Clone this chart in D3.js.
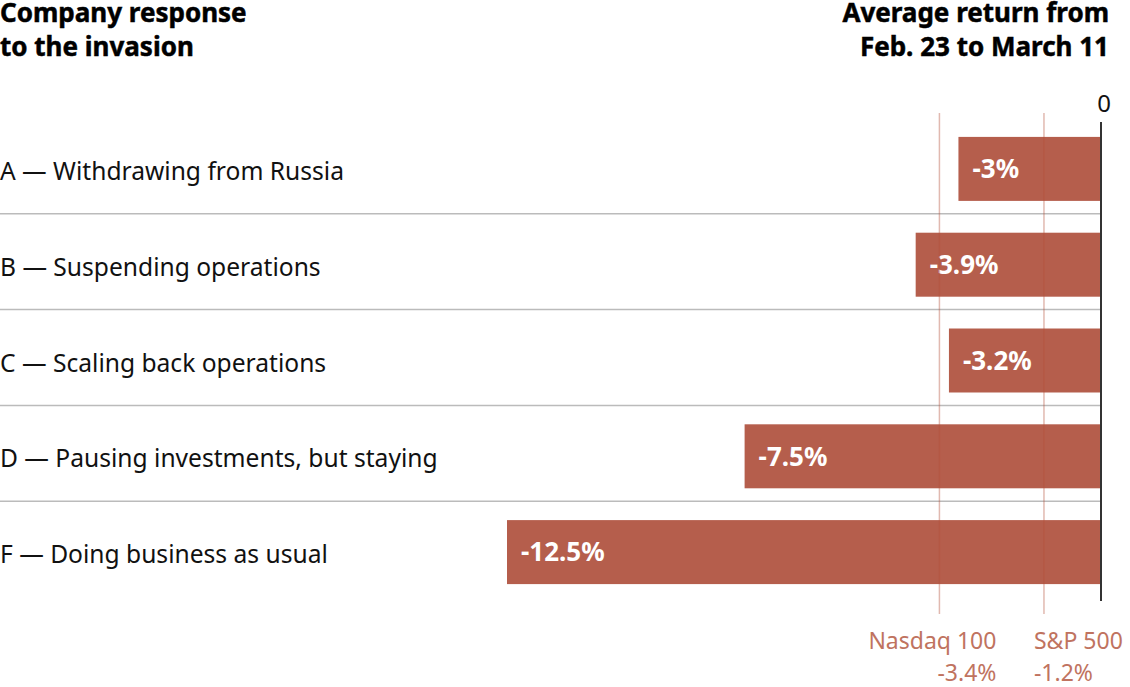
<!DOCTYPE html>
<html>
<head>
<meta charset="utf-8">
<script src="https://cdn.jsdelivr.net/npm/d3@7"></script>
<style>
  body { margin: 0; background: #fff; }
  text { font-family: "Noto Sans", sans-serif; }
</style>
</head>
<body>
<div id="chart"></div>
<script>
const categories = [
  "A \u2014 Withdrawing from Russia",
  "B \u2014 Suspending operations",
  "C \u2014 Scaling back operations",
  "D \u2014 Pausing investments, but staying",
  "F \u2014 Doing business as usual"
]
const returns = [-3, -3.9, -3.2, -7.5, -12.5]
const benchmarks = ["Nasdaq 100", "S&P 500"]
const benchmarkReturns = [-3.4, -1.2]
const titleLeft = ["Company response", "to the invasion"]
const titleRight = ["Average return from", "Feb. 23 to March 11"]

const width = 1130
const height = 687
const barColor = "#b55e4c"
const refColor = "#c0735f"

const svg = d3.select("#chart")
  .append("svg")
  .attr("width", width)
  .attr("height", height)

const x = d3.scaleLinear()
  .domain([-12.5, 0])
  .range([507, 1101])

const y = d3.scaleBand()
  .domain(categories)
  .range([121, 600])
  .paddingInner(0.332)
  .paddingOuter(0.166)

const bw = y.bandwidth()
const gap = y.step() - bw

// titles
const layer_title = svg.append("g")
  .style("font-weight", 700)
  .style("font-size", "26px")
  .style("fill", "#000")
  .style("stroke", "#000")
  .style("stroke-width", 0.5)

layer_title.append("text")
  .attr("x", 0).attr("y", 22)
  .selectAll("tspan")
  .data(titleLeft)
  .join("tspan")
  .attr("x", 0)
  .attr("dy", (d, i) => i ? 34 : 0)
  .text(d => d)

layer_title.append("text")
  .attr("x", 1109).attr("y", 22)
  .attr("text-anchor", "end")
  .selectAll("tspan")
  .data(titleRight)
  .join("tspan")
  .attr("x", 1109)
  .attr("dy", (d, i) => i ? 34 : 0)
  .text(d => d)

// row separators
svg.append("g")
  .selectAll("line")
  .data(categories.slice(0, -1))
  .join("line")
  .attr("x1", 0)
  .attr("x2", x(0))
  .attr("y1", d => y(d) + bw + gap / 2 - 3)
  .attr("y2", d => y(d) + bw + gap / 2 - 3)
  .attr("stroke", "#bbb")
  .attr("stroke-width", 1.5)

// row labels
svg.append("g")
  .selectAll("text")
  .data(categories)
  .join("text")
  .attr("x", 0)
  .attr("y", d => y(d) + bw / 2 + 11)
  .style("font-size", "24.6px")
  .style("fill", "#111")
  .text(d => d)

// bars
const bars = svg.append("g")
bars.selectAll("rect")
  .data(returns)
  .join("rect")
  .attr("x", d => x(d))
  .attr("width", d => x(0) - x(d))
  .attr("y", (d, i) => y(categories[i]))
  .attr("height", bw)
  .attr("fill", barColor)

bars.selectAll("text")
  .data(returns)
  .join("text")
  .attr("x", d => x(d) + 14)
  .attr("y", (d, i) => y(categories[i]) + bw / 2)
  .attr("dy", "0.36em")
  .style("fill", "#fff")
  .style("font-weight", 700)
  .style("font-size", "26px")
  .text(d => `${d}%`)

// zero axis
svg.append("line")
  .attr("x1", x(0)).attr("x2", x(0))
  .attr("y1", 122).attr("y2", 601)
  .attr("stroke", "#333")
  .attr("stroke-width", 2)

svg.append("text")
  .attr("x", x(0) + 3)
  .attr("y", 112)
  .attr("text-anchor", "middle")
  .style("font-size", "24px")
  .style("fill", "#111")
  .text("0")

// benchmark lines
const refs = svg.append("g")
refs.selectAll("line")
  .data(benchmarkReturns)
  .join("line")
  .attr("x1", d => x(d)).attr("x2", d => x(d))
  .attr("y1", 113).attr("y2", 614)
  .attr("stroke", "#b5503a")
  .attr("stroke-opacity", 0.4)
  .attr("stroke-width", 1.5)

const labelX = (i) => i === 0 ? x(benchmarkReturns[i]) + 57 : x(benchmarkReturns[i]) - 10
const labelAnchor = (i) => i === 0 ? "end" : "start"

const refLabels = refs.selectAll("g.lab")
  .data(benchmarks)
  .join("g")
  .attr("class", "lab")
  .style("font-size", "23px")
  .style("fill", refColor)
refLabels.append("text")
  .attr("x", (d, i) => labelX(i))
  .attr("y", 649)
  .attr("text-anchor", (d, i) => labelAnchor(i))
  .text(d => d)
refLabels.append("text")
  .attr("x", (d, i) => labelX(i))
  .attr("y", 681)
  .attr("text-anchor", (d, i) => labelAnchor(i))
  .text((d, i) => `${benchmarkReturns[i]}%`)
</script>
</body>
</html>
